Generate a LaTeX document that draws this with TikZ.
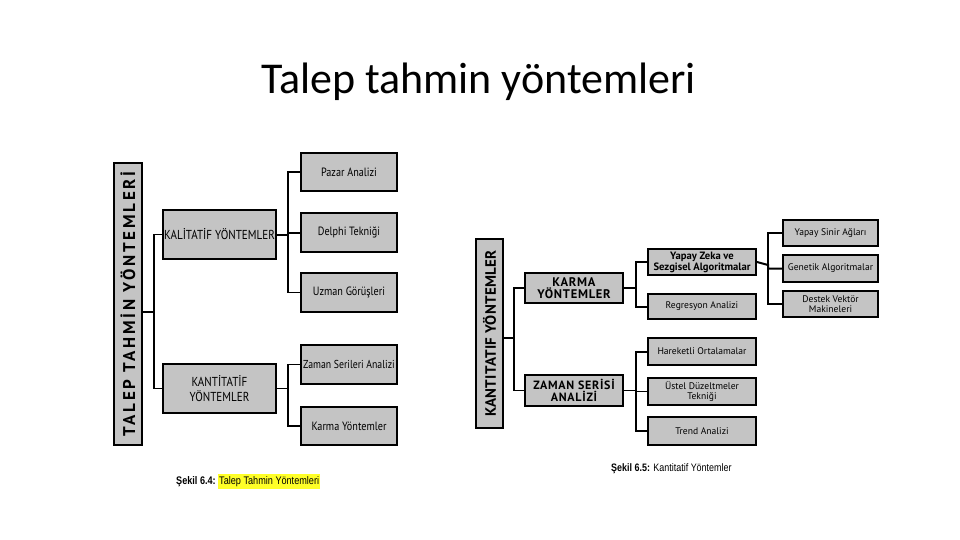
\documentclass[tikz,border=0pt]{standalone}
\usepackage{fontspec}
\setmainfont{PT Sans}
\newfontfamily\gill[FakeStretch=0.85]{PT Sans}
\newfontfamily\gillw{PT Sans}
\newfontfamily\gillsp[LetterSpace=16]{PT Sans}
\newfontfamily\gillsq[LetterSpace=6]{PT Sans}
\newfontfamily\gillsr[LetterSpace=2]{PT Sans}
\newfontfamily\titlefont{Carlito}
\newfontfamily\capfont[FakeStretch=0.83]{Liberation Sans}
\definecolor{boxgray}{RGB}{196,196,196}
\definecolor{hiyellow}{RGB}{255,255,40}
\tikzset{
  gbox/.style={draw=black, line width=2pt, fill=boxgray, inner sep=1pt, align=center, font=\gill},
  lbox/.style={gbox, font=\gill\fontsize{12}{14}\selectfont},
  rbox/.style={gbox, font=\gillw\fontsize{9.6}{10.5}\selectfont},
  conn/.style={line width=1.2pt, black},
  thick conn/.style={line width=2pt, black},
}
\begin{document}
\begin{tikzpicture}[x=1pt, y=-1pt]
\useasboundingbox (0,0) rectangle (960,540);
% title
\node[font=\titlefont\fontsize{44}{50}\selectfont, anchor=base] (title) at (478.5,94) {Talep tahmin yöntemleri};

% ---------- left diagram ----------
\node[gbox, minimum width=282, minimum height=28, rotate=90, font=\gillsp\bfseries\fontsize{17}{20}\selectfont] (root1) at (128,304) {TALEP TAHMİN YÖNTEMLERİ};
\node[gbox, minimum width=113, minimum height=49, font=\gill\fontsize{13}{15}\selectfont] (kal) at (219.5,234.5) {KALİTATİF YÖNTEMLER};
\node[gbox, minimum width=113, minimum height=49, font=\gill\fontsize{13}{15}\selectfont] (kan) at (219.5,388.5) {KANTİTATİF\\YÖNTEMLER};
\node[lbox, minimum width=96, minimum height=38] (pazar) at (349,172) {Pazar Analizi};
\node[lbox, minimum width=96, minimum height=39] (delphi) at (349,232.5) {Delphi Tekniği};
\node[lbox, minimum width=96, minimum height=39] (uzman) at (349,292.5) {Uzman Görüşleri};
\node[lbox, minimum width=96, minimum height=39, font=\gill\fontsize{11.5}{14}\selectfont] (zaman1) at (349,364.5) {Zaman Serileri Analizi};
\node[lbox, minimum width=96, minimum height=38] (karma1) at (349,426) {Karma Yöntemler};

\coordinate (t1) at (154,312);
\coordinate (b1) at (288,234.5);
\coordinate (b2) at (288,388.5);
\draw[conn] (root1.south |- t1) -- (t1);
\draw[conn] (kal.west) -| (t1) |- (kan.west);
\draw[thick conn] (kal.east) -- (b1) -- (b1 |- delphi.west) -- (delphi.west);
\draw[thick conn] (pazar.west) -| (b1);
\draw[conn] (b1) |- (uzman.west);
\draw[conn] (kan.east) -- (b2);
\draw[conn] (zaman1.west) -| (b2) |- (karma1.west);

% ---------- right diagram ----------
\node[gbox, minimum width=189, minimum height=27, rotate=90, font=\gillsr\bfseries\fontsize{15}{17}\selectfont] (root2) at (489.5,333.5) {KANTITATIF YÖNTEMLER};
\node[gbox, minimum width=98, minimum height=30, font=\gillsq\bfseries\fontsize{12.5}{12}\selectfont] (karma2) at (574,288) {KARMA\\YÖNTEMLER};
\node[gbox, minimum width=98, minimum height=31, font=\gillsq\bfseries\fontsize{12}{12}\selectfont] (zaman2) at (574,390.5) {ZAMAN SERİSİ\\ANALİZİ};
\node[gbox, minimum width=108, minimum height=26, font=\gillw\bfseries\fontsize{10.6}{11}\selectfont] (yz) at (702,262) {Yapay Zeka ve\\Sezgisel Algoritmalar};
\node[rbox, minimum width=108, minimum height=25] (reg) at (702,306.5) {Regresyon Analizi};
\node[rbox, minimum width=108, minimum height=27] (har) at (702,351.5) {Hareketli Ortalamalar};
\node[rbox, minimum width=108, minimum height=27] (ust) at (702,391.5) {Üstel Düzeltmeler\\Tekniği};
\node[rbox, minimum width=108, minimum height=28] (trend) at (702,431) {Trend Analizi};
\node[rbox, minimum width=95, minimum height=26] (sinir) at (830.5,233) {Yapay Sinir Ağları};
\node[rbox, minimum width=95, minimum height=27] (genetik) at (830.5,268.5) {Genetik Algoritmalar};
\node[rbox, minimum width=95, minimum height=26] (destek) at (830.5,304) {Destek Vektör\\Makineleri};

\coordinate (t2) at (514,338);
\coordinate (b3) at (636,288);
\coordinate (b4) at (636,390.5);
\coordinate (b5) at (768,265);
\draw[thick conn] (root2.south |- t2) -- (t2);
\draw[conn] (karma2.west) -| (t2) |- (zaman2.west);
\draw[conn] (karma2.east) -- (b3);
\draw[conn] (yz.west) -| (b3);
\draw[thick conn] (b3) |- (reg.west);
\draw[conn] (zaman2.east) -- (b4);
\draw[thick conn] (har.west) -| (b4);
\draw[conn] (b4) -- (b4 |- ust.west) -- (ust.west);
\draw[thick conn] (b4) |- (trend.west);
\draw[thick conn] (yz.east) -- (b5) -- (b5 |- genetik.west) -- (genetik.west);
\draw[conn] (sinir.west) -| (b5);
\draw[thick conn] (b5) |- (destek.west);

% ---------- captions ----------
\node[font=\capfont\fontsize{11}{13}\selectfont, anchor=base west, inner sep=0pt] (cap1a) at (176,484) {\bfseries Şekil 6.4:};
\node[font=\capfont\fontsize{11}{13}\selectfont, anchor=base west, fill=hiyellow, inner xsep=1pt, inner ysep=2.5pt] (cap1b) at ([xshift=2pt]cap1a.base east) {Talep Tahmin Yöntemleri};
\node[font=\capfont\fontsize{10.8}{12}\selectfont, anchor=base west, inner sep=0pt] (cap2) at (611,471) {\textbf{Şekil 6.5:} Kantitatif Yöntemler};
\end{tikzpicture}
\end{document}
